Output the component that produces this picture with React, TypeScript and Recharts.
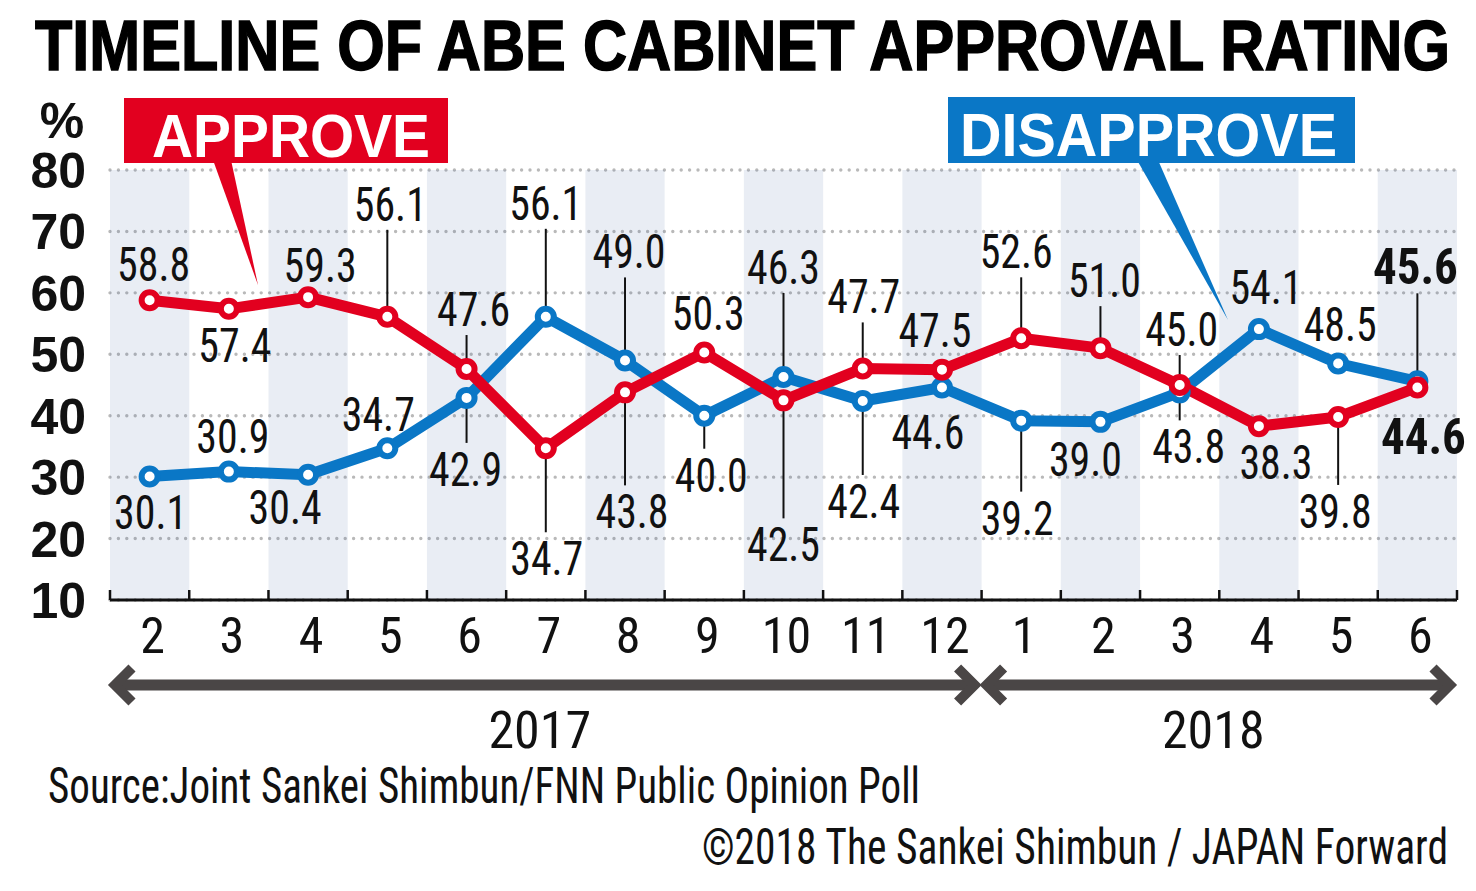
import { LineChart, Line, XAxis, YAxis, CartesianGrid, ReferenceArea } from 'recharts';

// survey months, Feb 2017 .. Jun 2018
const months = ['2', '3', '4', '5', '6', '7', '8', '9', '10', '11', '12', '1', '2', '3', '4', '5', '6'];
const approve = [58.8, 57.4, 59.3, 56.1, 47.6, 34.7, 43.8, 50.3, 42.5, 47.7, 47.5, 52.6, 51.0, 45.0, 38.3, 39.8, 44.6];
const disapprove = [30.1, 30.9, 30.4, 34.7, 42.9, 56.1, 49.0, 40.0, 46.3, 42.4, 44.6, 39.2, 39.0, 43.8, 54.1, 48.5, 45.6];
const yTicks = [10, 20, 30, 40, 50, 60, 70, 80];
const years = [
  { label: '2017', from: 0, to: 10 },
  { label: '2018', from: 11, to: 16 },
];

const data = months.map((m, i) => ({ idx: i, month: m, approve: approve[i], disapprove: disapprove[i] }));
const monthTicks = months.map((_, i) => i);

// label placement relative to each point (pixels)
type Place = { dx: number; dy: number; lead?: boolean };
const approvePlace: Place[] = [
  { dx: 4, dy: -36 }, { dx: 6, dy: 36 }, { dx: 12, dy: -32 }, { dx: 3, dy: -113, lead: true },
  { dx: 7, dy: -60, lead: true }, { dx: 1, dy: 110, lead: true }, { dx: 7, dy: 119, lead: true },
  { dx: 4, dy: -39 }, { dx: 0, dy: 144, lead: true }, { dx: 1, dy: -72, lead: true }, { dx: -7, dy: -40 },
  { dx: -5, dy: -87, lead: true }, { dx: 4, dy: -68, lead: true }, { dx: 2, dy: -56, lead: true },
  { dx: 17, dy: 36 }, { dx: -3, dy: 94, lead: true }, { dx: 6, dy: 50 },
];
const disapprovePlace: Place[] = [
  { dx: 1, dy: 35 }, { dx: 4, dy: -36 }, { dx: -23, dy: 32 }, { dx: -9, dy: -34 },
  { dx: -1, dy: 71, lead: true }, { dx: 0, dy: -114, lead: true }, { dx: 4, dy: -109, lead: true },
  { dx: 7, dy: 59, lead: true }, { dx: 0, dy: -110, lead: true }, { dx: 1, dy: 100, lead: true },
  { dx: -14, dy: 45 }, { dx: -4, dy: 97, lead: true }, { dx: -15, dy: 37 }, { dx: 9, dy: 54, lead: true },
  { dx: 7, dy: -42 }, { dx: 2, dy: -40 }, { dx: -2, dy: -114, lead: true },
];

const RED = '#e2001f';
const BLUE = '#0a77c6';
const ARROW = '#4a4646';
const NARROW = "'Liberation Sans Narrow', 'Arial Narrow', 'Roboto Condensed', 'Liberation Sans', Arial, sans-serif";
const HEAVY = "'Liberation Sans', Arial, sans-serif";

const W = 1476;
const H = 891;
const PLOT_LEFT = 110;
const PLOT_RIGHT = 1457;
const PLOT_TOP = 170;
const PLOT_BOTTOM = 600;
const X_AXIS_H = 60;
const BAND = (PLOT_RIGHT - PLOT_LEFT) / months.length;

const renderPoint = (key: 'approve' | 'disapprove', color: string, place: Place[]) => (props: any) => {
  const { cx, cy, index, payload } = props;
  if (cx == null || cy == null) return <g key={`${key}-${index}`} />;
  const p = place[index];
  const v: number = payload[key];
  const lx = cx + p.dx;
  const ly = cy + p.dy;
  const dir = p.dy > 0 ? 1 : -1;
  const last = index === months.length - 1;
  return (
    <g key={`${key}-${index}`}>
      {p.lead && <line x1={cx} x2={cx} y1={cy} y2={ly - dir * 26} stroke="#111" strokeWidth={2} />}
      <circle cx={cx} cy={cy} r={8} fill="#fff" stroke={color} strokeWidth={6} />
      <text
        x={lx}
        y={ly + 17}
        textAnchor="middle"
        fontSize={last ? 50 : 48}
        fontWeight={last ? 700 : 400}
        fontFamily={NARROW}
        fill="#111"
        textLength={last ? 85 : 73}
        lengthAdjust="spacingAndGlyphs"
      >
        {v.toFixed(1)}
      </text>
    </g>
  );
};

// month label plus the small upward tick marks at the band edges
const MonthTick = ({ x, y, payload }: any) => {
  const axisY = y - 8;
  const isLast = payload.value === months.length - 1;
  return (
    <g>
      <line x1={x - BAND / 2} x2={x - BAND / 2} y1={axisY} y2={axisY - 10} stroke="#111" strokeWidth={2.5} />
      {isLast && <line x1={x + BAND / 2} x2={x + BAND / 2} y1={axisY} y2={axisY - 10} stroke="#111" strokeWidth={2.5} />}
      <text x={x + 3} y={y + 45} textAnchor="middle" fontSize={50} fontFamily={NARROW} fill="#111">
        {months[payload.value]}
      </text>
    </g>
  );
};

const ValueTick = ({ x, y, payload }: any) => (
  <text x={x - 16} y={y + 18} textAnchor="end" fontSize={50} fontWeight={700} fontFamily={HEAVY} fill="#111">
    {payload.value}
  </text>
);

const xPx = (i: number) => PLOT_LEFT + (i + 0.5) * BAND;

const YearArrow = ({ from, to, label }: { from: number; to: number; label: string }) => {
  const a = xPx(from) - BAND / 2 + 3;
  const b = xPx(to) + BAND / 2 - 5;
  const y = 685;
  return (
    <g>
      <line x1={a + 4} x2={b - 4} y1={y} y2={y} stroke={ARROW} strokeWidth={11} />
      <polyline points={`${a + 19},${y - 17} ${a + 2},${y} ${a + 19},${y + 17}`} fill="none" stroke={ARROW} strokeWidth={10} />
      <polyline points={`${b - 19},${y - 17} ${b - 2},${y} ${b - 19},${y + 17}`} fill="none" stroke={ARROW} strokeWidth={10} />
      <text x={(a + b) / 2 - 5} y={748} textAnchor="middle" fontSize={52} fontFamily={NARROW} fill="#111">
        {label}
      </text>
    </g>
  );
};

export default function App() {
  return (
    <div style={{ position: 'absolute', left: 0, top: 0, width: W, height: H, background: '#fff' }}>
      <div style={{ position: 'absolute', left: 0, top: 0 }}>
        <LineChart
          width={W}
          height={H}
          data={data}
          margin={{ top: PLOT_TOP, right: W - PLOT_RIGHT, bottom: H - PLOT_BOTTOM - X_AXIS_H, left: 0 }}
          style={{ fontFamily: NARROW }}
        >
          {months.map((_, i) =>
            i % 2 === 0 ? (
              <ReferenceArea
                key={`band-${i}`}
                x1={i - 0.5}
                x2={i + 0.5}
                y1={10}
                y2={80}
                fill="#2b4f8f"
                fillOpacity={0.1}
                stroke="none"
                ifOverflow="hidden"
              />
            ) : null,
          )}
          <CartesianGrid
            vertical={false}
            stroke="#b9b9b9"
            strokeWidth={3.4}
            strokeDasharray="0 8.4"
            strokeLinecap="round"
          />
          <XAxis
            dataKey="idx"
            type="number"
            domain={[-0.5, 16.5]}
            ticks={monthTicks}
            interval={0}
            height={X_AXIS_H}
            tickLine={false}
            tickSize={6}
            tickMargin={2}
            axisLine={{ stroke: '#111', strokeWidth: 3 }}
            tick={<MonthTick />}
          />
          <YAxis
            type="number"
            domain={[10, 80]}
            ticks={yTicks}
            interval={0}
            width={PLOT_LEFT}
            axisLine={false}
            tickLine={false}
            tickSize={6}
            tickMargin={2}
            tick={<ValueTick />}
          />
          <Line
            dataKey="disapprove"
            stroke={BLUE}
            strokeWidth={11}
            strokeLinejoin="round"
            dot={renderPoint('disapprove', BLUE, disapprovePlace)}
            activeDot={false}
            isAnimationActive={false}
          />
          <Line
            dataKey="approve"
            stroke={RED}
            strokeWidth={11}
            strokeLinejoin="round"
            dot={renderPoint('approve', RED, approvePlace)}
            activeDot={false}
            isAnimationActive={false}
          />
        </LineChart>
      </div>
      <svg
        width={W}
        height={H}
        style={{ position: 'absolute', left: 0, top: 0, pointerEvents: 'none' }}
      >
        <text
          x={35}
          y={70}
          fontSize={70}
          fontWeight={900}
          fontFamily={HEAVY}
          fill="#000"
          stroke="#000"
          strokeWidth={1.5}
          textLength={1415}
          lengthAdjust="spacingAndGlyphs"
        >
          TIMELINE OF ABE CABINET APPROVAL RATING
        </text>
        <text x={62} y={138} textAnchor="middle" fontSize={50} fontWeight={700} fontFamily={HEAVY} fill="#111">
          %
        </text>

        <rect x={124} y={98} width={324} height={65} fill={RED} />
        <polygon points="213,160 231,160 258,285" fill={RED} />
        <text
          x={152}
          y={157}
          fontSize={62}
          fontWeight={700}
          fontFamily={HEAVY}
          fill="#fff"
          textLength={278}
          lengthAdjust="spacingAndGlyphs"
        >
          APPROVE
        </text>

        <rect x={948} y={97} width={407} height={66} fill={BLUE} />
        <polygon points="1137,160 1158,160 1228,320" fill={BLUE} />
        <text
          x={960}
          y={156}
          fontSize={62}
          fontWeight={700}
          fontFamily={HEAVY}
          fill="#fff"
          textLength={377}
          lengthAdjust="spacingAndGlyphs"
        >
          DISAPPROVE
        </text>

        {years.map((yr) => (
          <YearArrow key={yr.label} from={yr.from} to={yr.to} label={yr.label} />
        ))}

        <text
          x={48}
          y={803}
          fontSize={50}
          fontFamily={NARROW}
          fill="#111"
          textLength={872}
          lengthAdjust="spacingAndGlyphs"
        >
          Source:Joint Sankei Shimbun/FNN Public Opinion Poll
        </text>
        <text
          x={702}
          y={864}
          fontSize={50}
          fontFamily={NARROW}
          fill="#111"
          textLength={746}
          lengthAdjust="spacingAndGlyphs"
        >
          ©2018 The Sankei Shimbun / JAPAN Forward
        </text>
      </svg>
    </div>
  );
}
